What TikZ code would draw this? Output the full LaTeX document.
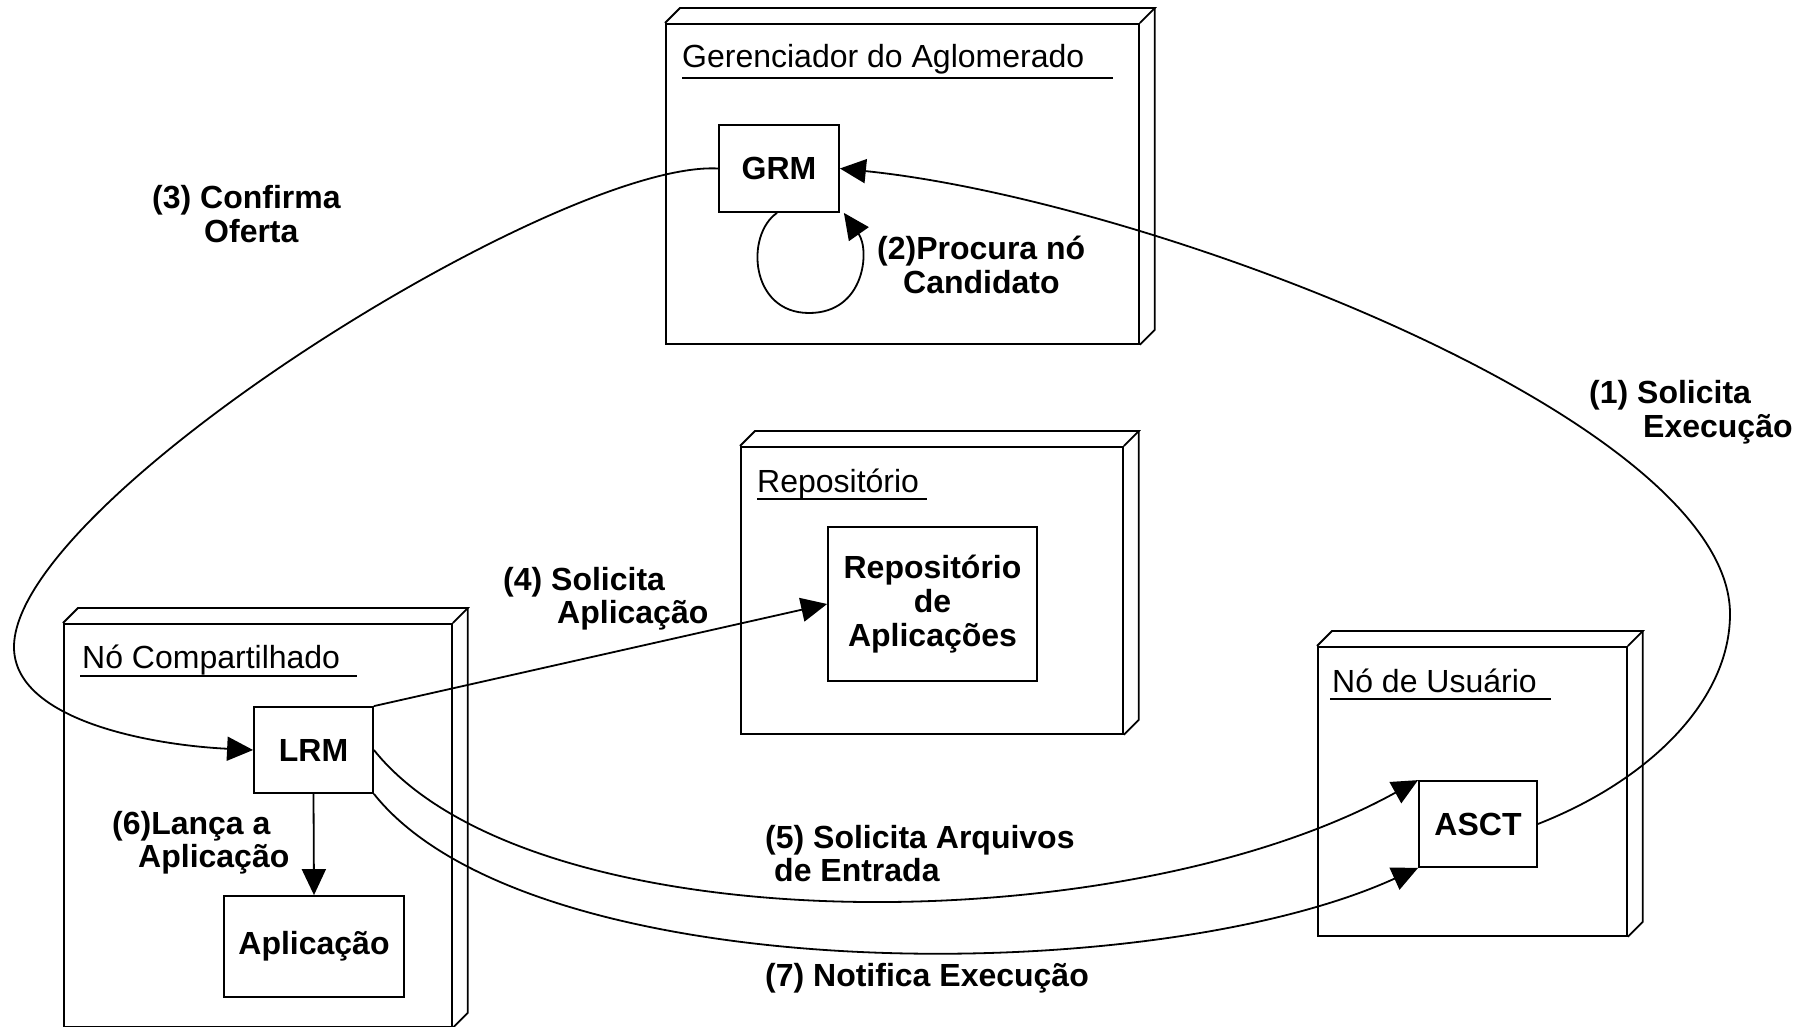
\documentclass[tikz,border=0pt]{standalone}
\usepackage{fontspec}
\setmainfont{Liberation Sans}
\usetikzlibrary{arrows.meta}
\begin{document}
\begin{tikzpicture}[x=1pt,y=-1pt,
  lw/.style={line width=1.8pt},
  face/.style={draw, lw, inner sep=0pt, anchor=north west},
  innerbox/.style={draw, lw, inner sep=0pt, font=\bfseries\fontsize{32}{34}\selectfont, align=center},
  ttl/.style={font=\fontsize{32}{34}\selectfont, inner sep=0pt, anchor=base west},
  lbl/.style={font=\bfseries\fontsize{32}{33.5}\selectfont, align=left, inner sep=0pt, anchor=west},
  conn/.style={lw, -{Triangle[length=26pt,width=24pt]}},
  depth/.style={lw, line join=miter}
]
\useasboundingbox (0,0) rectangle (1810,1027);

% ---------- 3D nodes (front faces) ----------
\node[face, minimum width=473pt, minimum height=320pt] (gca) at (665,23) {};
\node[face, minimum width=382pt, minimum height=287pt] (rep) at (740,446) {};
\node[face, minimum width=388pt, minimum height=403pt] (noc) at (63,623) {};
\node[face, minimum width=309pt, minimum height=289pt] (nou) at (1317,646) {};

\foreach \n in {gca,rep,noc,nou}{
  \draw[depth] (\n.north west) -- ++(15,-15) -- ([shift={(15pt,15pt)}]\n.north east) -- (\n.north east);
  \draw[depth] ([shift={(15pt,15pt)}]\n.north east) -- ([shift={(15pt,15pt)}]\n.south east) -- (\n.south east);
}

% ---------- titles ----------
\node[ttl] (tgca) at (682,68) {Gerenciador do Aglomerado};
\draw[lw] (682,78) -- (1113,78);
\node[ttl] (trep) at (757,492) {Repositório};
\draw[lw] (757,499) -- (927,499);
\node[ttl] (tnoc) at (82,668) {Nó Compartilhado};
\draw[lw] (80,676) -- (357,676);
\node[ttl] (tnou) at (1332,692) {Nó de Usuário};
\draw[lw] (1330,699) -- (1551,699);

% ---------- inner boxes ----------
\node[innerbox, minimum width=120pt, minimum height=87pt] (GRM) at (779,168.5) {GRM};
\node[innerbox, minimum width=209pt, minimum height=154pt] (RA) at (932.5,604) {Repositório\\de\\Aplicações};
\node[innerbox, minimum width=119pt, minimum height=86pt] (LRM) at (313.5,750) {LRM};
\node[innerbox, minimum width=180pt, minimum height=101pt] (APP) at (314,946.5) {Aplicação};
\node[innerbox, minimum width=118pt, minimum height=86pt] (ASCT) at (1478,824) {ASCT};

% ---------- connectors ----------
% (1)
\draw[conn] (ASCT.east) .. controls (1650,780) and (1730,700) .. (1730,614)
  .. controls (1730,420) and (1150,200) .. (GRM.east);
% (2) self loop
\draw[conn] ([xshift=-2pt]GRM.south) .. controls (745,235) and (750,313) .. (809,313)
  .. controls (865,313) and (870,250) .. ([xshift=4pt]GRM.south east);
% (3)
\draw[conn] (GRM.west) .. controls (560,160) and (14,500) .. (14,647)
  .. controls (14,720) and (150,745) .. (LRM.west);
% (4)
\draw[conn] (LRM.north east) -- (RA.west);
% (5)
\draw[conn] (LRM.east) .. controls (530,945) and (1120,945) .. (ASCT.north west);
% (6)
\draw[conn] (LRM.south) -- (APP.north);
% (7)
\draw[conn] (LRM.south east) .. controls (530,990) and (1150,990) .. (ASCT.south west);

% ---------- labels ----------
\node[lbl] (l1) at (1589,412) {(1) Solicita\\\hspace*{54pt}Execução};
\node[lbl] (l2) at (877,265) {(2)Procura nó\\\hspace*{26pt}Candidato};
\node[lbl] (l3) at (152,214) {(3) Confirma\\\hspace*{52pt}Oferta};
\node[lbl] (l4) at (503,598.5) {(4) Solicita\\\hspace*{54pt}Aplicação};
\node[lbl] (l5) at (765,853.5) {(5) Solicita Arquivos\\\hspace*{9pt}de Entrada};
\node[lbl] (l6) at (112,842.5) {(6)Lança a\\\hspace*{26pt}Aplicação};
\node[lbl] (l7) at (765,978) {(7) Notifica Execução};
\end{tikzpicture}
\end{document}
